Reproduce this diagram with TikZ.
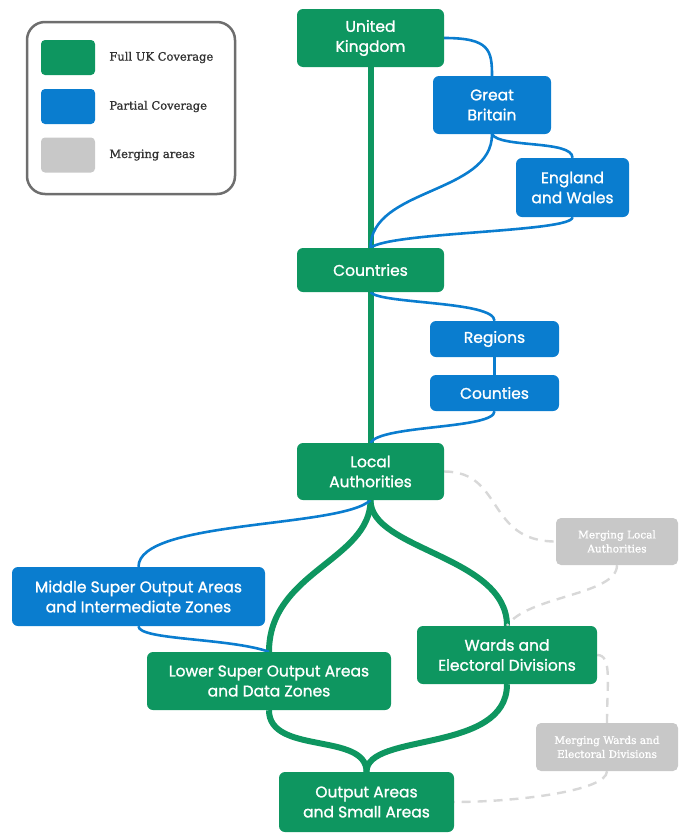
\documentclass[tikz,border=0pt]{standalone}
\usepackage{fontspec}
\setmainfont{Poppins}[FakeBold=1.2]
\newfontfamily\slabfont{DejaVu Serif}[FakeBold=1.2]
\usetikzlibrary{positioning,backgrounds}
\definecolor{ukgreen}{HTML}{0E9660}
\definecolor{ptblue}{HTML}{0A7DCF}
\definecolor{mrggray}{HTML}{C8C8C8}
\definecolor{dashgray}{HTML}{D8D8D8}
\definecolor{framegray}{HTML}{6E6E6E}
\tikzset{
  box/.style={rounded corners=6pt, text=white, align=center, inner sep=2pt, font=\fontsize{15.5}{20}\selectfont},
  boxg/.style={box, fill=ukgreen},
  boxb/.style={box, fill=ptblue},
  boxm/.style={box, fill=mrggray, rounded corners=5pt, font=\slabfont\fontsize{10.5}{14}\selectfont},
  lng/.style={draw=ukgreen, line width=6pt},
  lnb/.style={draw=ptblue, line width=2.6pt},
  lnm/.style={draw=dashgray, line width=2.4pt, dash pattern=on 9pt off 7pt},
  swatch/.style={rounded corners=4pt, minimum width=54pt, minimum height=35pt, inner sep=0pt},
  lbl/.style={font=\slabfont\fontsize{11.5}{13}\selectfont, text=black!80, inner sep=0pt},
}

\begin{document}
\begin{tikzpicture}[x=1pt, y=-1pt]
    \useasboundingbox (0,0) rectangle (678,833);
    % legend
    \node[draw=framegray, line width=2.5pt, rounded corners=18pt, minimum width=208pt, minimum height=172pt] (lgd) at (131,108) {};
    \node[swatch, fill=ukgreen] (swg) at (68,57.5) {};
    \node[swatch, fill=ptblue] (swb) at (68,106.5) {};
    \node[swatch, fill=mrggray] (swm) at (68,155) {};
    \node[lbl, right=14pt of swg] (lg) {Full UK Coverage};
    \node[lbl, right=14pt of swb] (lb) {Partial Coverage};
    \node[lbl, right=14pt of swm] (lm) {Merging areas};
    % geographies
    \node[boxg, minimum width=147pt, minimum height=58pt] (uk) at (370.5,38) {United\\Kingdom};
    \node[boxb, minimum width=118pt, minimum height=58pt] (gb) at (492,105) {Great\\Britain};
    \node[boxb, minimum width=113pt, minimum height=59pt] (ew) at (572.5,187.5) {England\\and Wales};
    \node[boxg, minimum width=147pt, minimum height=44pt] (ctry) at (370.5,270) {Countries};
    \node[boxb, minimum width=129pt, minimum height=36pt] (reg) at (494.5,339) {Regions};
    \node[boxb, minimum width=129pt, minimum height=36pt] (cty) at (494.5,393) {Counties};
    \node[boxg, minimum width=147pt, minimum height=57pt] (la) at (370.5,471.5) {Local\\Authorities};
    \node[boxb, minimum width=253pt, minimum height=59pt] (msoa) at (138.5,596.5) {Middle Super Output Areas\\and Intermediate Zones};
    \node[boxg, minimum width=244pt, minimum height=58pt] (lsoa) at (269,681) {Lower Super Output Areas\\and Data Zones};
    \node[boxg, minimum width=180pt, minimum height=58pt] (ward) at (507,655) {Wards and\\Electoral Divisions};
    \node[boxg, minimum width=175pt, minimum height=60pt] (oa) at (366.5,802) {Output Areas\\and Small Areas};
    \node[boxm, minimum width=122pt, minimum height=47pt] (mla) at (617,541.5) {Merging Local\\Authorities};
    \node[boxm, minimum width=142pt, minimum height=48pt] (mwd) at (607,747) {Merging Wards and\\Electoral Divisions};
    % links
    \begin{scope}[on background layer]
      \draw[lng] (uk.south) -- (ctry.north);
      \draw[lng] (ctry.south) -- (la.north);
      \draw[lng] (la.south) .. controls +(0,60) and +(0,-80) .. (lsoa.north);
      \draw[lng] (la.south) .. controls +(0,50) and +(0,-70) .. (ward.north);
      \draw[lng] (lsoa.south) .. controls +(0,45) and +(0,-40) .. (oa.north);
      \draw[lng] (ward.south) .. controls +(0,70) and +(0,-40) .. (oa.north);
      \draw[lnb] (uk.east) .. controls +(45,0) and +(0,-26) .. (gb.north);
      \draw[lnb] (gb.south) .. controls +(0,60) and +(0,-60) .. (ctry.north);
      \draw[lnb] (gb.south) .. controls +(8,14) and +(0,-18) .. (ew.north);
      \draw[lnb] (ew.south) .. controls +(0,15) and +(20,-16) .. (ctry.north);
      \draw[lnb] (ctry.south) .. controls +(10,12) and +(0,-20) .. (reg.north);
      \draw[lnb] (reg.south) -- (cty.north);
      \draw[lnb] (cty.south) .. controls +(0,18) and +(10,-18) .. (la.north);
      \draw[lnb] (la.south) .. controls +(-30,28) and +(0,-47) .. (msoa.north);
      \draw[lnb] (msoa.south) .. controls +(0,14) and +(-40,-14) .. (lsoa.north);
      \draw[lnm] (la.east) .. controls +(60,0) and +(-70,0) .. (mla.west);
      \draw[lnm] (mla.south) .. controls +(0,30) and +(20,-30) .. (ward.north);
      \draw[lnm] (ward.east) .. controls +(15,0) and +(0,-40) .. (mwd.north);
      \draw[lnm] (mwd.south) .. controls +(0,20) and +(60,0) .. (oa.east);
    \end{scope}
\end{tikzpicture}
\end{document}
